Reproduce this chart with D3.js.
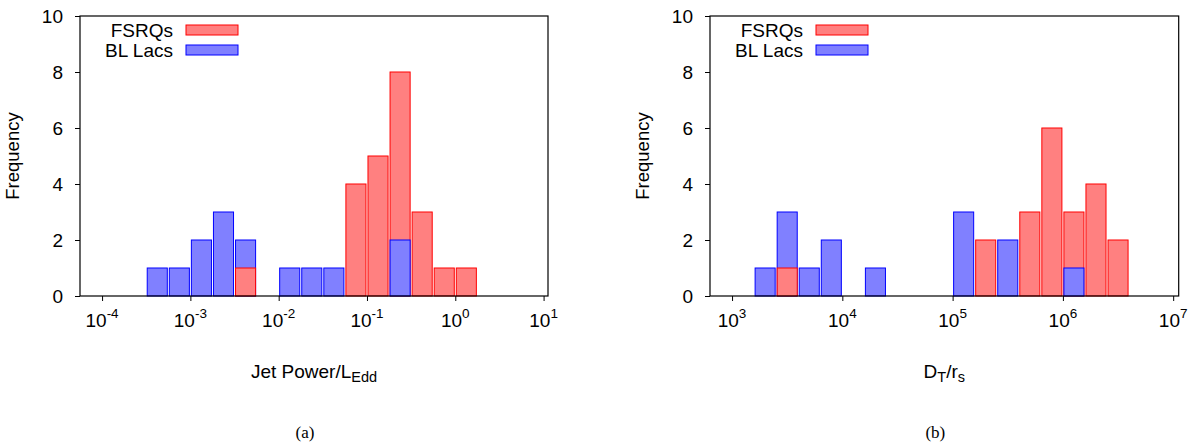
<!DOCTYPE html>
<html lang="en">
<head>
  <meta charset="UTF-8">
  <title>Jet power and dissipation distance histograms</title>
  <script src="https://d3js.org/d3.v7.min.js"></script>
  <style>
    body {
      margin: 0;
      background: #fff;
      font-family: "Liberation Sans", Arial, sans-serif;
    }
    .axis path, .axis line {
      stroke: #000;
    }
    .caption {
      font-family: "Liberation Serif", "Times New Roman", serif;
      font-size: 17px;
    }
  </style>
</head>
<body>
  <svg id="chart" width="1192" height="446"></svg>

  <script>
    // Panel (a): Jet Power / L_Edd, bins in log10, width 0.25 dex
    const jetBinLog = [-3.5, -3.25, -3, -2.75, -2.5, -2.25, -2, -1.75, -1.5, -1.25, -1, -0.75, -0.5, -0.25, 0];
    const jetFSRQ   = [0, 0, 0, 0, 1, 0, 0, 0, 0, 4, 5, 8, 3, 1, 1];
    const jetBLLac  = [1, 1, 2, 3, 2, 0, 1, 1, 1, 0, 0, 2, 0, 0, 0];
    const jetTicks  = [-4, -3, -2, -1, 0, 1];

    // Panel (b): D_T / r_s, bins in log10, width 0.2 dex
    const dtBinLog = [3.2, 3.4, 3.6, 3.8, 4.0, 4.2, 4.4, 4.6, 4.8, 5.0, 5.2, 5.4, 5.6, 5.8, 6.0, 6.2, 6.4];
    const dtFSRQ   = [0, 1, 0, 0, 0, 0, 0, 0, 0, 0, 2, 0, 3, 6, 3, 4, 2];
    const dtBLLac  = [1, 3, 1, 2, 0, 1, 0, 0, 0, 3, 0, 2, 0, 0, 1, 0, 0];
    const dtTicks  = [3, 4, 5, 6, 7];

    const yTicks = [0, 2, 4, 6, 8, 10];
    const seriesNames = ["FSRQs", "BL Lacs"];

    const colors = {
      "FSRQs":   {fill: "#ff8080", stroke: "#ff0000"},
      "BL Lacs": {fill: "#8080ff", stroke: "#0000ff"}
    };

    const svg = d3.select("#chart");
    const plotTop = 16, plotBottom = 296;

    function drawPanel(opt) {
      const g = svg.append("g");
      const x = d3.scaleLog()
        .domain([Math.pow(10, opt.logMin), Math.pow(10, opt.logMax)])
        .range([opt.left, opt.right]);
      const y = d3.scaleLinear().domain([0, 10]).range([plotBottom, plotTop]);

      // bars: taller one first, shorter drawn on top
      const bars = [];
      opt.bins.forEach((b, i) => {
        const pair = [
          {name: "FSRQs", v: opt.fsrq[i]},
          {name: "BL Lacs", v: opt.bllac[i]}
        ].filter(d => d.v > 0).sort((a, c) => c.v - a.v);
        pair.forEach(d => bars.push({lo: b, hi: b + opt.binWidth, name: d.name, v: d.v}));
      });

      g.selectAll("rect.bar")
        .data(bars)
        .enter().append("rect")
        .attr("class", "bar")
        .attr("x", d => x(Math.pow(10, d.lo)) + 1)
        .attr("width", d => x(Math.pow(10, d.hi)) - x(Math.pow(10, d.lo)) - 2)
        .attr("y", d => y(d.v))
        .attr("height", d => y(0) - y(d.v))
        .attr("fill", d => colors[d.name].fill)
        .attr("stroke", d => colors[d.name].stroke)
        .attr("stroke-width", 1);

      // frame
      g.append("rect")
        .attr("x", opt.left).attr("y", plotTop)
        .attr("width", opt.right - opt.left).attr("height", plotBottom - plotTop)
        .attr("fill", "none").attr("stroke", "#000").attr("stroke-width", 1.2);

      // x axis
      const xAxis = g.append("g")
        .attr("class", "axis")
        .attr("transform", `translate(0,${plotBottom})`)
        .call(d3.axisBottom(x)
          .tickValues(opt.ticks.map(t => Math.pow(10, t)))
          .tickSize(5).tickSizeOuter(0).tickFormat(""));
      xAxis.select(".domain").remove();
      xAxis.selectAll(".tick text").remove();

      opt.ticks.forEach(t => {
        const tx = g.append("text")
          .attr("x", x(Math.pow(10, t)))
          .attr("y", 327)
          .attr("text-anchor", "middle")
          .style("font-size", "19px");
        tx.append("tspan").text("10");
        tx.append("tspan").attr("dy", -9).style("font-size", "13.5px").text(t);
      });

      // y axis
      const yAxis = g.append("g")
        .attr("class", "axis")
        .attr("transform", `translate(${opt.left},0)`)
        .call(d3.axisLeft(y).tickValues(yTicks).tickSize(5).tickSizeOuter(0).tickPadding(12));
      yAxis.select(".domain").remove();
      yAxis.selectAll(".tick text")
        .style("font-size", "19px")
        .style("font-family", "Liberation Sans, Arial, sans-serif")
        .attr("fill", "#000");

      // y label
      g.append("text")
        .attr("transform", `translate(${opt.left - 61},${(plotTop + plotBottom) / 2}) rotate(-90)`)
        .attr("text-anchor", "middle")
        .style("font-size", "18.5px")
        .text("Frequency");

      // x label
      const mid = (opt.left + opt.right) / 2;
      const xl = g.append("text")
        .attr("x", mid).attr("y", 378)
        .attr("text-anchor", "middle")
        .style("font-size", "19px");
      opt.xLabel.forEach(p => {
        const s = xl.append("tspan").text(p.t);
        if (p.sub) s.attr("dy", 4).style("font-size", "14.5px");
        else if (p.back) s.attr("dy", -4);
      });

      // legend
      seriesNames.forEach((name, i) => {
        const ly = 30 + i * 20;
        g.append("text")
          .attr("x", opt.left + 93).attr("y", ly)
          .attr("dy", "0.35em")
          .attr("text-anchor", "end")
          .style("font-size", "19px")
          .text(name);
        g.append("rect")
          .attr("x", opt.left + 106).attr("y", ly - 5)
          .attr("width", 52).attr("height", 10)
          .attr("fill", colors[name].fill)
          .attr("stroke", colors[name].stroke);
      });

      // caption
      svg.append("text")
        .attr("class", "caption")
        .attr("x", mid - 9).attr("y", 438)
        .attr("text-anchor", "middle")
        .text(opt.caption);
    }

    drawPanel({
      left: 80, right: 548, logMin: -4.25, logMax: 1.05,
      bins: jetBinLog, binWidth: 0.25, fsrq: jetFSRQ, bllac: jetBLLac,
      ticks: jetTicks,
      xLabel: [{t: "Jet Power/L"}, {t: "Edd", sub: true}],
      caption: "(a)"
    });

    drawPanel({
      left: 710, right: 1178.7, logMin: 2.8, logMax: 7.05,
      bins: dtBinLog, binWidth: 0.2, fsrq: dtFSRQ, bllac: dtBLLac,
      ticks: dtTicks,
      xLabel: [{t: "D"}, {t: "T", sub: true}, {t: "/r", back: true}, {t: "s", sub: true}],
      caption: "(b)"
    });
  </script>
</body>
</html>
